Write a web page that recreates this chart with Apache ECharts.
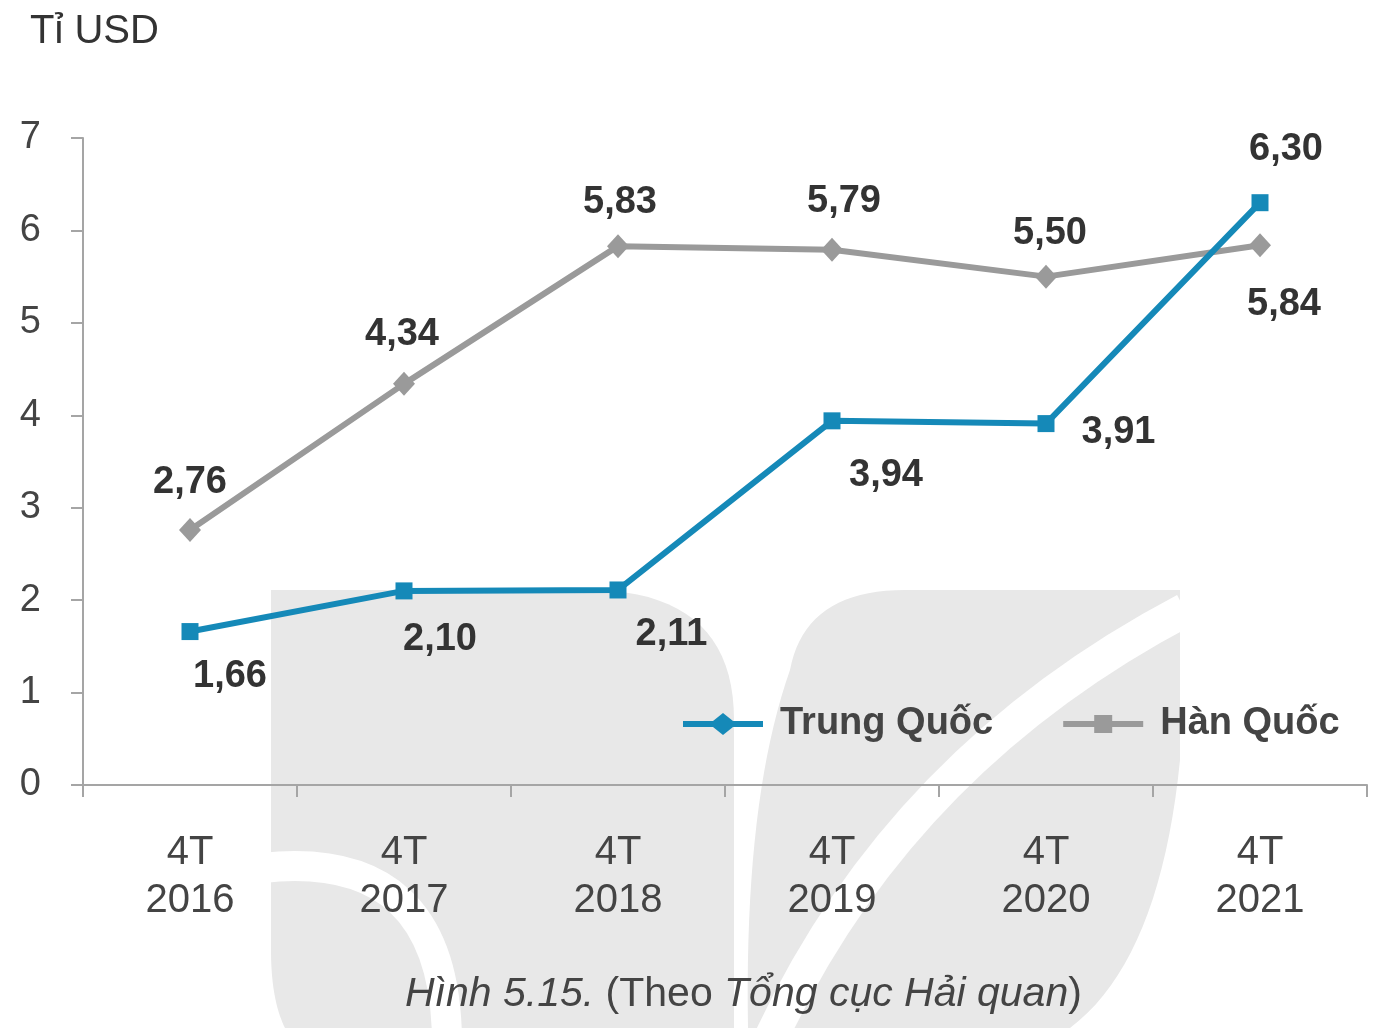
<!DOCTYPE html>
<html><head><meta charset="utf-8">
<script src="https://cdn.jsdelivr.net/npm/echarts@6/dist/echarts.min.js"></script>
<style>html,body{margin:0;padding:0;background:#fff}#c{width:1381px;height:1028px}</style>
</head><body><div id="c"></div>
<script>
const categories = ['4T\n2016','4T\n2017','4T\n2018','4T\n2019','4T\n2020','4T\n2021'];
const trungQuoc = [1.66, 2.10, 2.11, 3.94, 3.91, 6.30];
const hanQuoc = [2.76, 4.34, 5.83, 5.79, 5.50, 5.84];
const yTicks = [0,1,2,3,4,5,6,7];

const fmt = v => v.toFixed(2).replace('.', ',');
const lblTQ = [
  {position:'bottom', offset:[40,12]},
  {position:'bottom', offset:[36,16]},
  {position:'right', offset:[4,45]},
  {position:'bottom', offset:[54,22]},
  {position:'right', offset:[22,9]},
  {position:'top', offset:[26,-21]}
];
const lblHQ = [
  {position:'top', offset:[0,-11]},
  {position:'top', offset:[-2,-13]},
  {position:'top', offset:[2,-8]},
  {position:'top', offset:[12,-12]},
  {position:'top', offset:[4,-7]},
  {position:'bottom', offset:[24,23]}
];
const font = '"Liberation Sans", Arial, sans-serif';

// decorative watermark outline helper (quadratic segments sampled into polygon points)
function shapePts(segs){
  const pts=[];
  segs.forEach(s=>{
    if(s.length===2){pts.push(s);} else {
      const [p0,c,p1]=s;
      for(let t=0;t<=1.0001;t+=0.05){
        const u=1-t;
        pts.push([u*u*p0[0]+2*u*t*c[0]+t*t*p1[0], u*u*p0[1]+2*u*t*c[1]+t*t*p1[1]]);
      }
    }
  });
  return pts;
}
const wm = '#e8e8e8';
const leftShape = shapePts([[271,590],[[600,590],[734,596],[734,720]],[734,1028],[[285,1028],[271,1000],[271,950]]]);
const rightShape = shapePts([[[790,670],[805,590],[905,590]],[1180,590],[1180,760],[[1180,760],[1160,960],[1070,1028]],[[748,1028],[744,800],[790,670]]]);

const chart = echarts.init(document.getElementById('c'));
chart.setOption({
  animation:false,
  textStyle:{fontFamily:font},
  graphic:[
    {type:'polygon', z:-10, shape:{points:leftShape}, style:{fill:wm}},
    {type:'bezierCurve', z:-9, shape:{x1:262,y1:868,cpx1:445,cpy1:848,x2:447,y2:1040}, style:{fill:null, stroke:'#fff', lineWidth:30}},
    {type:'polygon', z:-10, shape:{points:rightShape}, style:{fill:wm}},
    {type:'bezierCurve', z:-9, shape:{x1:1185,y1:610,cpx1:900,cpy1:760,x2:770,y2:1040}, style:{fill:null, stroke:'#fff', lineWidth:34}},
    {type:'text', left:30, top:12, style:{text:'Tỉ USD', font:'40px '+font, fill:'#333'}},
    {type:'text', left:405, top:974, style:{
      rich:{i:{fontStyle:'italic', fontSize:41, fontFamily:font, fill:'#444'}, n:{fontSize:41, fontFamily:font, fill:'#444'}},
      text:'{i|Hình 5.15.}{n| (Theo }{i|Tổng cục Hải quan}{n|)}'
    }}
  ],
  legend:{
    left:678, top:700, itemWidth:80, itemHeight:22, itemGap:70,
    textStyle:{fontSize:38, fontWeight:'bold', color:'#444', fontFamily:font, padding:[0,0,0,12]},
    data:[
      {name:'Trung Quốc', icon:'path://M0,8 L30,8 L40,0 L50,8 L80,8 L80,14 L50,14 L40,22 L30,14 L0,14 Z', itemStyle:{color:'#1589b8'}},
      {name:'Hàn Quốc', icon:'path://M0,8 L31,8 L31,2 L49,2 L49,8 L80,8 L80,14 L49,14 L49,20 L31,20 L31,14 L0,14 Z', itemStyle:{color:'#9a9a9a'}}
    ]
  },
  grid:{left:83, right:14, top:138, bottom:243, containLabel:false},
  xAxis:{
    type:'category', data:categories, boundaryGap:true,
    axisLine:{lineStyle:{color:'#a5a5a5', width:2}},
    axisTick:{show:true, length:12, lineStyle:{color:'#a5a5a5', width:2}},
    axisLabel:{fontSize:40, color:'#444', lineHeight:48, margin:44, fontFamily:font}
  },
  yAxis:{
    type:'value', min:0, max:7, interval:1,
    splitLine:{show:false},
    axisLine:{show:true, lineStyle:{color:'#a5a5a5', width:2}},
    axisTick:{show:true, length:12, lineStyle:{color:'#a5a5a5', width:2}},
    axisLabel:{fontSize:38, color:'#444', margin:42, fontFamily:font, formatter:v => yTicks.includes(v) ? String(v) : ''}
  },
  series:[
    {
      name:'Trung Quốc', type:'line', z:4,
      symbol:'rect', symbolSize:17,
      lineStyle:{color:'#1589b8', width:6},
      itemStyle:{color:'#1589b8'},
      data:trungQuoc.map((v,i)=>({value:v, label:{show:true, ...lblTQ[i]}})),
      label:{formatter:p=>fmt(p.value), fontSize:38, fontWeight:'bold', color:'#333', fontFamily:font}
    },
    {
      name:'Hàn Quốc', type:'line', z:3,
      symbol:'diamond', symbolSize:[22,24],
      lineStyle:{color:'#9a9a9a', width:6},
      itemStyle:{color:'#9a9a9a'},
      data:hanQuoc.map((v,i)=>({value:v, label:{show:true, ...lblHQ[i]}})),
      label:{formatter:p=>fmt(p.value), fontSize:38, fontWeight:'bold', color:'#333', fontFamily:font}
    }
  ]
});
</script></body></html>
